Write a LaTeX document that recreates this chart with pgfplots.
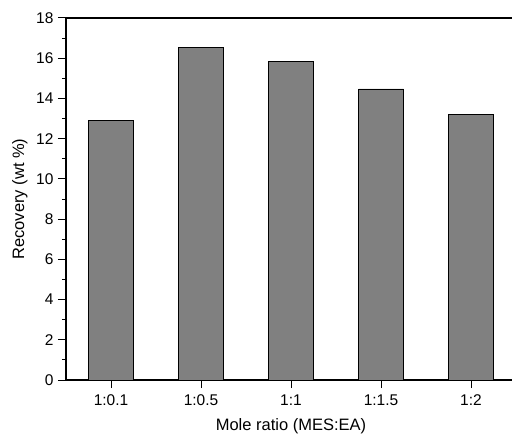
\documentclass[border=0pt]{standalone}
\usepackage{fontspec}
\setmainfont{Liberation Sans}
\usepackage{pgfplots}
\pgfplotsset{compat=1.18}
\definecolor{bargray}{HTML}{808080}
\begin{document}
\begin{tikzpicture}
\begin{axis}[
  scale only axis,
  width=445.5pt, height=362pt,
  xmin=-0.5, xmax=4.45,
  ymin=0, ymax=18,
  axis x line*=box, axis y line*=left,
  axis line style={line width=1.1pt, black},
  xtick={0,1,2,3,4},
  xticklabels={1:0.1,1:0.5,1:1,1:1.5,1:2},
  xtick pos=bottom,
  ytick={0,2,4,6,8,10,12,14,16,18},
  minor y tick num=1,
  ytick pos=left,
  tick align=outside,
  major tick length=8pt,
  minor tick length=4pt,
  every tick/.style={black, line width=1pt},
  tick label style={font=\fontsize{15.5}{18}\selectfont},
  /pgf/number format/assume math mode=true,
  xticklabel style={yshift=-3pt},
  yticklabel style={xshift=-1pt},
  xlabel={Mole ratio (MES:EA)},
  ylabel={Recovery (wt \%)},
  every axis x label/.style={at={(axis description cs:0.505,-0.127)}, anchor=center, font=\fontsize{16.5}{19}\selectfont},
  every axis y label/.style={at={(axis description cs:-0.1033,0.5)}, anchor=center, rotate=90, font=\fontsize{16.5}{19}\selectfont},
  ybar, bar width=45pt,
  clip=false,
]
\addplot[fill=bargray, draw=black, line width=0.9pt] coordinates {
  (0,12.91) (1,16.53) (2,15.85) (3,14.47) (4,13.21)
};
\coordinate (o) at (rel axis cs:0,0);
\end{axis}
\pgfresetboundingbox
\path ([shift={(-66pt,-57pt)}]o) rectangle ([shift={(447pt,380pt)}]o);
\end{tikzpicture}
\end{document}
